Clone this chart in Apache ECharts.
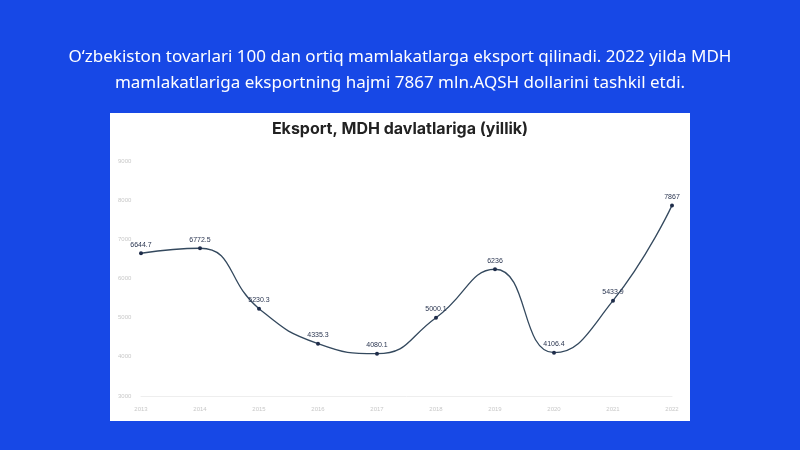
<!DOCTYPE html>
<html>
<head>
<meta charset="utf-8">
<script src="https://cdn.jsdelivr.net/npm/echarts@6/dist/echarts.min.js"></script>
<style>
html,body{margin:0;padding:0;background:#1748e6;}
#c{width:800px;height:450px;}
</style>
</head>
<body>
<div id="c"></div>
<script>
const years = ['2013','2014','2015','2016','2017','2018','2019','2020','2021','2022'];
const exportValues = [6644.7, 6772.5, 5230.3, 4335.3, 4080.1, 5000.1, 6236, 4106.4, 5433.9, 7867];
const valueLabels = ['6644.7','6772.5','5230.3','4335.3','4080.1','5000.1','6236','4106.4','5433.9','7867'];
const yTicks = {min: 3000, max: 9000, interval: 1000};
const headerLines = [
  "O\u2018zbekiston tovarlari 100 dan ortiq mamlakatlarga eksport qilinadi. 2022 yilda MDH",
  "mamlakatlariga eksportning hajmi 7867 mln.AQSH dollarini tashkil etdi."
];
const chartTitle = 'Eksport, MDH davlatlariga (yillik)';

const chart = echarts.init(document.getElementById('c'), null, {renderer: 'canvas'});
chart.setOption({
  backgroundColor: '#1748e6',
  animation: false,
  graphic: [
    {type: 'rect', shape: {x: 110, y: 113, width: 580, height: 308}, style: {fill: '#ffffff'}, z: -10},
    {type: 'text', left: 'center', top: 49, style: {text: headerLines[0], fill: '#ffffff', font: '17px "Noto Sans"'}},
    {type: 'text', left: 'center', top: 75, style: {text: headerLines[1], fill: '#ffffff', font: '17px "Noto Sans"'}}
  ],
  title: {
    text: chartTitle, left: 'center', top: 116,
    textStyle: {color: '#222222', fontSize: 16, fontWeight: 'bold', fontFamily: 'Inter'}
  },
  grid: {left: 141, right: 128, top: 161, bottom: 54, containLabel: false},
  xAxis: {
    type: 'category', data: years, boundaryGap: false,
    axisLine: {lineStyle: {color: '#eeeeee'}},
    axisTick: {show: false},
    axisLabel: {color: '#c8c8c8', fontSize: 6, margin: 10}
  },
  yAxis: {
    type: 'value', min: yTicks.min, max: yTicks.max, interval: yTicks.interval,
    axisLine: {show: false}, axisTick: {show: false}, splitLine: {show: false},
    axisLabel: {color: '#c8c8c8', fontSize: 6, align: 'left', margin: 23, formatter: v => String(v)}
  },
  series: [{
    type: 'line', data: exportValues, smooth: 0.5,
    symbol: 'circle', symbolSize: 4,
    lineStyle: {color: '#34495e', width: 1.3},
    itemStyle: {color: '#1f2d4a'},
    label: {
      show: true, position: 'top', distance: 3, fontSize: 7, color: '#2a3550',
      formatter: p => valueLabels[p.dataIndex]
    }
  }]
});
</script>
</body>
</html>
